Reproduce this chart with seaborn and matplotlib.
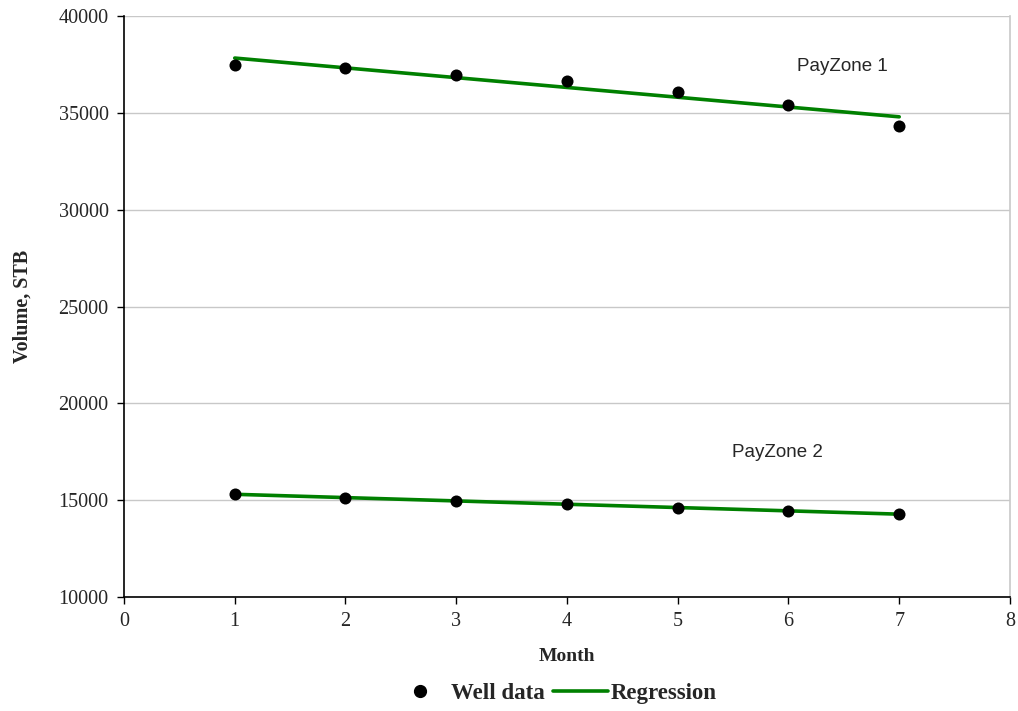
import matplotlib
matplotlib.use("Agg")
import matplotlib.pyplot as plt
import seaborn as sns
import numpy as np
import pandas as pd
from matplotlib.lines import Line2D

# Monthly produced volume per pay zone
months = [1, 2, 3, 4, 5, 6, 7]
payzone1 = [37490, 37310, 36950, 36620, 36080, 35390, 34340]
payzone2 = [15310, 15130, 14960, 14790, 14620, 14450, 14280]
zone_names = ["PayZone 1", "PayZone 2"]
x_ticks = [0, 1, 2, 3, 4, 5, 6, 7, 8]
y_ticks = [10000, 15000, 20000, 25000, 30000, 35000, 40000]

df = pd.DataFrame({
    "Month": months * 2,
    "Volume": payzone1 + payzone2,
    "Zone": [zone_names[0]] * len(months) + [zone_names[1]] * len(months),
})

sns.set_style("white")
plt.rcParams["font.family"] = ["Liberation Serif", "DejaVu Serif"]

fig = plt.figure(figsize=(10.18, 7.11), dpi=100)
ax = fig.add_axes([0.1218, 0.1603, 0.8703, 0.8172])

green = "#008000"
for zone in zone_names:
    sub = df[df["Zone"] == zone]
    sns.regplot(data=sub, x="Month", y="Volume", ax=ax, scatter=False, ci=None,
                line_kws=dict(color=green, lw=2.6, zorder=2))
sns.scatterplot(data=df, x="Month", y="Volume", ax=ax, color="black", s=75,
                edgecolor="black", linewidth=0, zorder=3, legend=False)

ax.set_xlim(0, 8)
ax.set_ylim(10000, 40000)
ax.set_xticks(x_ticks)
ax.set_yticks(y_ticks)
ax.yaxis.grid(True, color="#c8c8c8", lw=1)
ax.set_axisbelow(True)

for side in ["left", "bottom"]:
    ax.spines[side].set_color("black")
    ax.spines[side].set_linewidth(1.2)
ax.spines["top"].set_visible(False)
ax.spines["right"].set_color("#c8c8c8")
ax.spines["right"].set_linewidth(1.2)

ax.tick_params(axis="both", which="major", direction="out", length=5, width=1,
               color="black", labelsize=14.5, pad=6, left=True, bottom=True)

ax.set_xlabel("Month", fontsize=14, fontweight="bold", labelpad=12)
ax.set_ylabel("Volume, STB", fontsize=14.5, fontweight="bold", labelpad=19)

ax.text(6.49, 37400, "PayZone 1", fontsize=13.5, ha="center", va="center",
        family=["Liberation Sans", "DejaVu Sans"])
ax.text(5.9, 17450, "PayZone 2", fontsize=13.5, ha="center", va="center",
        family=["Liberation Sans", "DejaVu Sans"])

handles = [
    Line2D([], [], marker="o", color="black", linestyle="none", markersize=8.5),
    Line2D([], [], color=green, lw=2.6),
]
fig.legend(handles, ["Well data", "Regression"], loc="center",
           bbox_to_anchor=(0.545, 0.025), ncol=2, frameon=False,
           prop=dict(weight="bold", size=16.5), handlelength=2.4,
           handletextpad=0.15, columnspacing=0.35)

fig.savefig("out.png", dpi=100)
